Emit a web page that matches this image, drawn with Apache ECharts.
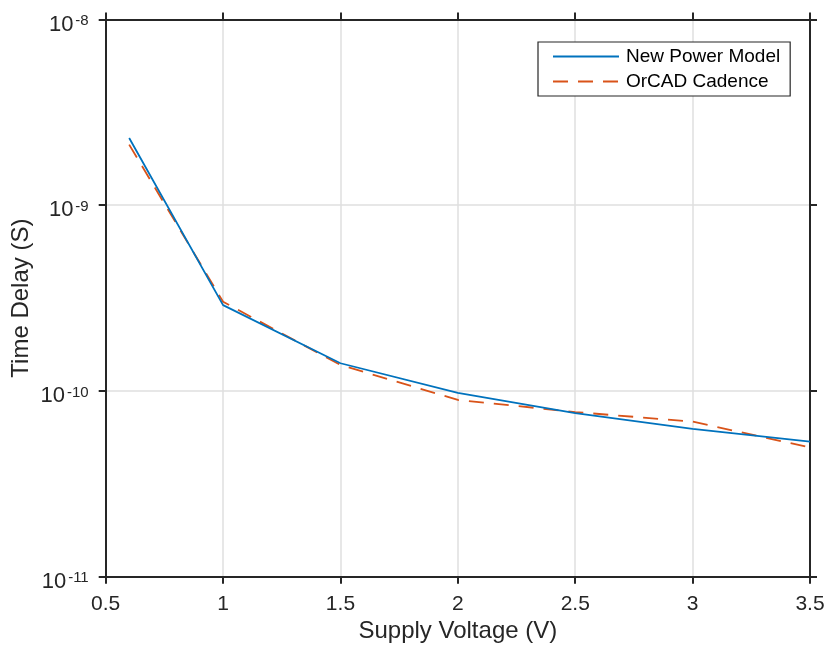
<!DOCTYPE html>
<html>
<head>
<meta charset="utf-8">
<script src="https://cdn.jsdelivr.net/npm/echarts@6/dist/echarts.min.js"></script>
<style>
  html, body { margin: 0; padding: 0; background: #fff; }
  #chart { width: 828px; height: 650px; }
</style>
</head>
<body>
<div id="chart"></div>
<script>
// Supply voltage sweep (V)
const voltage = [0.6, 1, 1.5, 2, 2.5, 3, 3.5];
// Propagation delay from the proposed power model (s)
const newPowerModel = [2.30e-9, 2.90e-10, 1.41e-10, 9.76e-11, 7.59e-11, 6.25e-11, 5.33e-11];
// Propagation delay from OrCAD Cadence simulation (s)
const orcadCadence = [2.12e-9, 3.02e-10, 1.38e-10, 8.95e-11, 7.70e-11, 6.84e-11, 4.96e-11];

const seriesNames = ['New Power Model', 'OrCAD Cadence'];
const xTicks = { min: 0.5, max: 3.5, step: 0.5 };
const yTicks = { min: 1e-11, max: 1e-8 };

const FONT = '"Liberation Sans", Arial, Helvetica, sans-serif';
const INK = '#262626';
const GRID = '#dfdfdf';

const pairs = (xs, ys) => xs.map((x, i) => [x, ys[i]]);

// Decade labels rendered as 10 with a raised exponent
function powerLabel(v) {
  const e = Math.round(Math.log10(v));
  return '{b|10}{s|' + e + '}';
}

const axisCommon = {
  axisLine: { show: true, lineStyle: { color: INK, width: 2 } },
  axisTick: { show: true, inside: false, length: 7, lineStyle: { color: INK, width: 2 } },
  minorTick: { show: false },
  minorSplitLine: { show: false }
};

const chart = echarts.init(document.getElementById('chart'), null, { renderer: 'canvas' });

chart.setOption({
  animation: false,
  backgroundColor: '#ffffff',
  textStyle: { fontFamily: FONT, color: INK },
  grid: {
    left: 105.7, right: 18, top: 19.5, bottom: 73.3,
    containLabel: false,
    outerBoundsMode: 'none'
  },
  legend: {
    data: seriesNames,
    orient: 'vertical',
    left: 538,
    top: 42,
    padding: [5, 10, 5, 14],
    itemWidth: 66,
    itemHeight: 19,
    itemGap: 6,
    backgroundColor: '#ffffff',
    borderColor: INK,
    borderWidth: 1.2,
    borderRadius: 0,
    itemStyle: { opacity: 0 },
    textStyle: { fontFamily: FONT, fontSize: 19, color: '#000', lineHeight: 19, padding: [0, 0, 0, 2] }
  },
  xAxis: [
    Object.assign({}, axisCommon, {
      type: 'value',
      position: 'bottom',
      min: xTicks.min, max: xTicks.max, interval: xTicks.step,
      name: 'Supply Voltage (V)',
      nameLocation: 'middle',
      nameMoveOverlap: false,
      nameGap: 43,
      nameTextStyle: { fontFamily: FONT, fontSize: 24, color: INK },
      axisLabel: { fontFamily: FONT, fontSize: 21, color: INK, margin: 17 },
      splitLine: { show: true, lineStyle: { color: GRID, width: 1.5 } }
    }),
    Object.assign({}, axisCommon, {
      type: 'value',
      position: 'top',
      min: xTicks.min, max: xTicks.max, interval: xTicks.step,
      axisLabel: { show: false },
      splitLine: { show: false }
    })
  ],
  yAxis: [
    Object.assign({}, axisCommon, {
      type: 'log',
      logBase: 10,
      position: 'left',
      min: yTicks.min, max: yTicks.max,
      name: 'Time Delay (S)',
      nameLocation: 'middle',
      nameMoveOverlap: false,
      nameGap: 72,
      nameTextStyle: { fontFamily: FONT, fontSize: 24, color: INK },
      axisLabel: {
        margin: 17,
        padding: [10, 0, 0, 0],
        formatter: powerLabel,
        rich: {
          b: { fontFamily: FONT, fontSize: 22, lineHeight: 22, color: INK, verticalAlign: 'bottom' },
          s: { fontFamily: FONT, fontSize: 15, lineHeight: 15, color: INK, verticalAlign: 'top', padding: [0, 0, 13, 2] }
        }
      },
      splitLine: { show: true, lineStyle: { color: GRID, width: 1.5 } }
    }),
    Object.assign({}, axisCommon, {
      type: 'log',
      logBase: 10,
      position: 'right',
      min: yTicks.min, max: yTicks.max,
      axisLabel: { show: false },
      splitLine: { show: false }
    })
  ],
  series: [
    {
      name: seriesNames[0],
      type: 'line',
      xAxisIndex: 0, yAxisIndex: 0,
      data: pairs(voltage, newPowerModel),
      symbol: 'none',
      z: 3,
      lineStyle: { color: '#0072BD', width: 1.8 },
      itemStyle: { color: '#0072BD' }
    },
    {
      name: seriesNames[1],
      type: 'line',
      xAxisIndex: 0, yAxisIndex: 0,
      data: pairs(voltage, orcadCadence),
      symbol: 'none',
      z: 2,
      lineStyle: { color: '#D95319', width: 1.8, type: [15, 10], cap: 'butt' },
      itemStyle: { color: '#D95319' }
    }
  ]
});
</script>
</body>
</html>
